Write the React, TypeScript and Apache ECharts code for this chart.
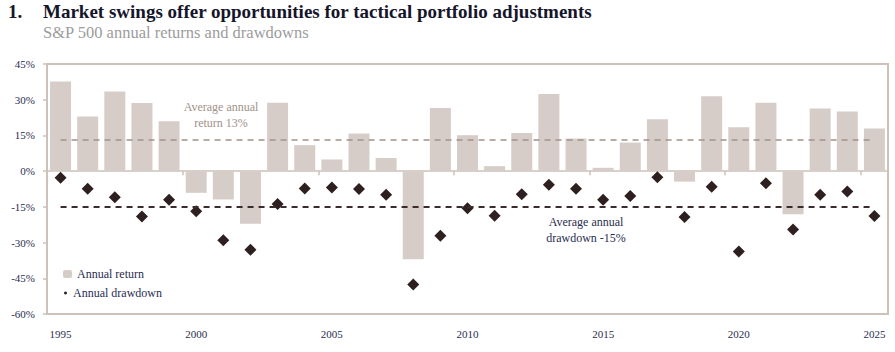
import React, { useEffect, useRef } from "react";
import * as echarts from "echarts";

const years = [
  "1995", "1996", "1997", "1998", "1999", "2000", "2001", "2002", "2003", "2004",
  "2005", "2006", "2007", "2008", "2009", "2010", "2011", "2012", "2013", "2014",
  "2015", "2016", "2017", "2018", "2019", "2020", "2021", "2022", "2023", "2024", "2025",
];
const annualReturn = [
  37.6, 23.0, 33.4, 28.6, 21.0, -9.1, -11.9, -22.1, 28.7, 10.9,
  4.9, 15.8, 5.5, -37.0, 26.5, 15.1, 2.1, 16.0, 32.4, 13.7,
  1.4, 12.0, 21.8, -4.4, 31.5, 18.4, 28.7, -18.1, 26.3, 25.0, 17.9,
];
const annualDrawdown = [
  -2.8, -7.4, -11.0, -19.0, -12.0, -16.8, -29.0, -33.0, -13.8, -7.3,
  -6.9, -7.5, -9.9, -47.6, -27.1, -15.6, -18.7, -9.7, -5.7, -7.4,
  -12.0, -10.4, -2.6, -19.3, -6.6, -33.8, -5.1, -24.5, -9.9, -8.5, -18.8,
];
const avgReturn = 13;
const avgDrawdown = -15;
const yMin = -60;
const yMax = 45;
const yTicks = [-60, -45, -30, -15, 0, 15, 30, 45];

const NAVY = "#2a2d4f";
const BORDER = "#cdc1b9";
const SERIF = "'Liberation Serif', 'DejaVu Serif', serif";

export default function App() {
  const ref = useRef<HTMLDivElement>(null);
  useEffect(() => {
    document.body.style.margin = "0";
    if (!ref.current) return;
    const chart = echarts.init(ref.current, undefined, { renderer: "svg" });
    chart.setOption({
      animation: false,
      textStyle: { fontFamily: SERIF },
      grid: {
        left: 47, right: 7, top: 64, bottom: 38,
        show: true, borderColor: BORDER, borderWidth: 2,
      },
      legend: [
        {
          data: ["Annual return"], orient: "vertical", left: 63, top: 268, padding: 0,
          itemWidth: 9, itemHeight: 8,
          textStyle: { color: NAVY, fontSize: 12, fontFamily: SERIF },
          selectedMode: false,
        },
        {
          data: [{ name: "Annual drawdown", icon: "circle" }], orient: "vertical", left: 64, top: 287, padding: 0,
          itemWidth: 3, itemHeight: 3,
          textStyle: { color: NAVY, fontSize: 12, fontFamily: SERIF, padding: [0, 0, 0, 1] },
          selectedMode: false,
        },
      ],
      xAxis: [
        {
          type: "category", data: years, position: "bottom",
          axisLine: { show: true, onZero: false, lineStyle: { color: BORDER, width: 2 } },
          axisTick: { show: false },
          axisLabel: { interval: 4, color: NAVY, fontSize: 11, margin: 14, fontFamily: SERIF },
        },
        {
          type: "category", data: years, position: "top",
          axisLine: { show: true, onZero: true, lineStyle: { color: BORDER, width: 1.5 } },
          axisTick: { show: true, inside: true, interval: 4, length: 4, lineStyle: { color: BORDER, width: 1.5 } },
          axisLabel: { show: false },
        },
      ],
      yAxis: [
        {
          type: "value", min: yMin, max: yMax, interval: 15, position: "left",
          axisLine: { show: true, lineStyle: { color: BORDER, width: 2 } },
          axisTick: { show: true, length: 4, lineStyle: { color: BORDER, width: 1.5 } },
          splitLine: { show: false },
          axisLabel: {
            color: NAVY, fontSize: 11, margin: 12, fontFamily: SERIF,
            formatter: (v: number) => (yTicks.includes(v) ? `${v}%` : ""),
          },
        },
        {
          type: "value", min: yMin, max: yMax, interval: 15, position: "right",
          axisLine: { show: true, onZero: false, lineStyle: { color: BORDER, width: 2 } },
          axisTick: { show: false }, axisLabel: { show: false }, splitLine: { show: false },
        },
      ],
      series: [
        {
          name: "Annual return", type: "bar", data: annualReturn, barWidth: 21,
          itemStyle: { color: "#d6cdc8" },
          markLine: {
            silent: true, symbol: "none", label: { show: false },
            data: [
              { yAxis: yMax, lineStyle: { color: BORDER, type: "solid", width: 2 } },
              [
                { coord: [years[0], avgReturn], lineStyle: { color: "#a29189", type: [6, 5], width: 1.5 } },
                { coord: [years[years.length - 1], avgReturn] },
              ],
              [
                { coord: [years[0], avgDrawdown], lineStyle: { color: "#3a2c2c", type: [6, 5], width: 2 } },
                { coord: [years[years.length - 1], avgDrawdown] },
              ],
            ],
          },
        },
        {
          name: "Annual drawdown", type: "scatter", data: annualDrawdown,
          symbol: "diamond", symbolSize: [12, 12],
          itemStyle: { color: "#2e2020", opacity: 1 },
        },
      ],
      graphic: [
        { type: "text", left: 8, top: 2, style: { text: "1.", font: `bold 19px ${SERIF}`, fill: "#15152b" } },
        { type: "text", left: 43, top: 2, style: { text: "Market swings offer opportunities for tactical portfolio adjustments", font: `bold 19px ${SERIF}`, fill: "#15152b" } },
        { type: "text", left: 43, top: 24, style: { text: "S&P 500 annual returns and drawdowns", font: `16.5px ${SERIF}`, fill: "#9c9c9c" } },
        { type: "text", x: 221, y: 99, style: { text: "Average annual\nreturn 13%", font: `12px ${SERIF}`, fill: "#a29189", align: "center", lineHeight: 16 } },
        { type: "text", x: 586, y: 214, style: { text: "Average annual\ndrawdown -15%", font: `12px ${SERIF}`, fill: NAVY, align: "center", lineHeight: 16 } },
      ],
    });
    return () => chart.dispose();
  }, []);
  return <div ref={ref} style={{ width: 895, height: 352 }} />;
}
